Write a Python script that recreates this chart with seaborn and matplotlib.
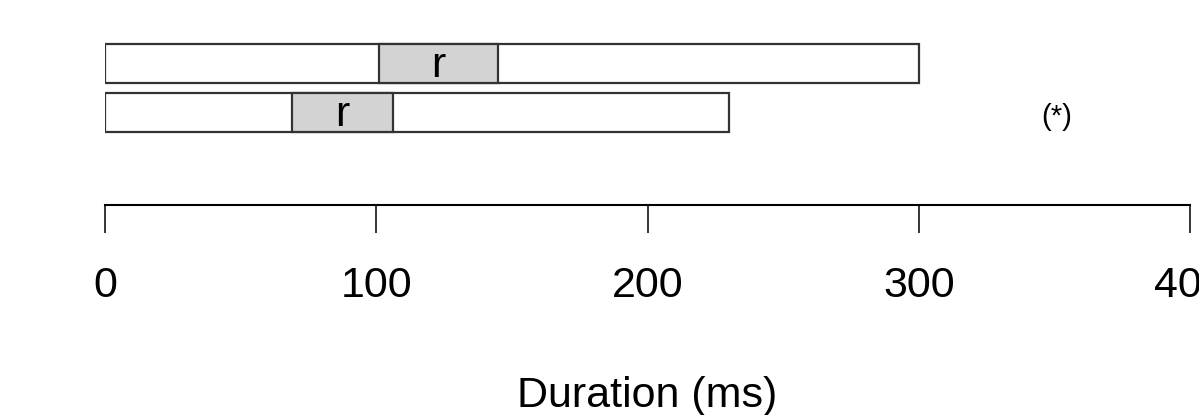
import matplotlib
matplotlib.use("Agg")
import matplotlib.pyplot as plt
import seaborn as sns

# Data (durations in ms)
trials = ["long", "short"]
total_ms = [300, 230]
r_start = [101, 69]
r_end = [145, 106]
r_label = ["r", "r"]
note_label = "(*)"
note_x = 351
tick_values = [0, 100, 200, 300, 400]
xlabel = "Duration (ms)"

sns.set_theme(style="white")
plt.rcParams["font.family"] = ["Liberation Sans", "DejaVu Sans"]

fig = plt.figure(figsize=(11.99, 4.15), dpi=100)
ax = fig.add_axes([105 / 1199, 210 / 415, 1085 / 1199, 175 / 415])

edge = "#333333"

# Full trial bars
sns.barplot(x=total_ms, y=trials, orient="h", color="white", saturation=1,
            edgecolor=edge, linewidth=1.6, width=0.8, ax=ax)

# Grey "r" segments inside the bars
widths = [e - s for s, e in zip(r_start, r_end)]
ax.barh(range(len(trials)), widths, left=r_start, height=0.8,
        color="lightgray", edgecolor=edge, linewidth=1.6)

for i, (s, e, lab) in enumerate(zip(r_start, r_end, r_label)):
    ax.text((s + e) / 2, i + 0.27, lab, ha="center", va="baseline",
            fontsize=31, color="black")

ax.text(note_x, 1.1, note_label, ha="center", va="center", fontsize=21,
        color="black")

# Axis styling (R-like bottom axis)
ax.set_xlim(0, 400)
ax.set_ylim(2.888, -0.684)
ax.set_xticks(tick_values)
ax.set_xticklabels([str(v) for v in tick_values])
ax.set_yticks([])
ax.set_ylabel("")
sns.despine(ax=ax, left=True)
ax.spines["bottom"].set_color("black")
ax.spines["bottom"].set_linewidth(1.5)
ax.tick_params(axis="x", bottom=True, direction="out", length=20, width=1.1,
               pad=24, labelsize=31, color="black", labelcolor="black")
ax.set_xlabel(xlabel, fontsize=31, labelpad=50, color="black")

fig.savefig("out.png", dpi=100)
